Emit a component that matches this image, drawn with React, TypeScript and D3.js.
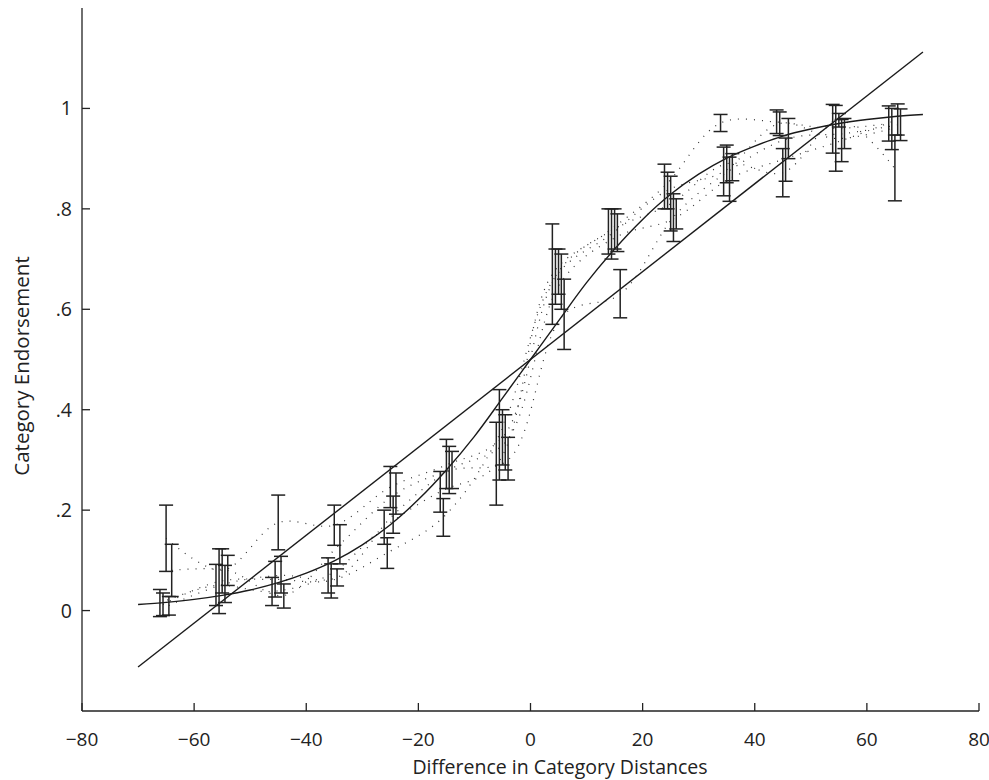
import React from "react";
import * as d3 from "d3";

const groupX = [-65, -55, -45, -35, -25, -15, -5, 5, 15, 25, 35, 45, 55, 65];
const seriesOffsets = [-1.1, -0.55, 0, 0.5, 1.0];

const seriesAMean = [0.015, 0.05, 0.038, 0.07, 0.166, 0.237, 0.29, 0.67, 0.755, 0.845, 0.971, 0.973, 0.96, 0.97];
const seriesALow = [-0.012, 0.01, 0.01, 0.035, 0.132, 0.196, 0.21, 0.57, 0.71, 0.8, 0.954, 0.95, 0.911, 0.935];
const seriesAHigh = [0.042, 0.092, 0.066, 0.105, 0.2, 0.277, 0.375, 0.77, 0.8, 0.889, 0.988, 0.997, 1.008, 1.005];

const seriesBMean = [0.012, 0.058, 0.062, 0.06, 0.115, 0.186, 0.35, 0.665, 0.75, 0.837, 0.874, 0.97, 0.94, 0.96];
const seriesBLow = [-0.01, -0.006, 0.027, 0.025, 0.084, 0.148, 0.26, 0.61, 0.7, 0.8, 0.826, 0.946, 0.875, 0.918];
const seriesBHigh = [0.035, 0.123, 0.098, 0.093, 0.145, 0.223, 0.44, 0.72, 0.8, 0.873, 0.923, 0.993, 1.006, 1.0];

const seriesCMean = [0.144, 0.08, 0.175, 0.17, 0.246, 0.29, 0.345, 0.675, 0.76, 0.81, 0.89, 0.872, 0.977, 0.88];
const seriesCLow = [0.078, 0.035, 0.121, 0.13, 0.205, 0.243, 0.29, 0.63, 0.72, 0.756, 0.852, 0.824, 0.963, 0.816];
const seriesCHigh = [0.21, 0.123, 0.23, 0.21, 0.287, 0.341, 0.4, 0.72, 0.8, 0.865, 0.927, 0.92, 0.99, 0.947];

const seriesDMean = [0.01, 0.053, 0.07, 0.066, 0.19, 0.28, 0.335, 0.655, 0.745, 0.78, 0.86, 0.9, 0.936, 0.978];
const seriesDLow = [-0.009, 0.016, 0.035, 0.049, 0.154, 0.233, 0.28, 0.6, 0.715, 0.735, 0.815, 0.855, 0.894, 0.947];
const seriesDHigh = [0.028, 0.09, 0.108, 0.083, 0.228, 0.327, 0.39, 0.71, 0.79, 0.83, 0.903, 0.941, 0.978, 1.009];

const seriesEMean = [0.08, 0.08, 0.03, 0.132, 0.233, 0.28, 0.3, 0.59, 0.63, 0.79, 0.88, 0.94, 0.95, 0.968];
const seriesELow = [0.028, 0.05, 0.005, 0.093, 0.192, 0.243, 0.26, 0.52, 0.583, 0.76, 0.856, 0.9, 0.92, 0.936];
const seriesEHigh = [0.132, 0.11, 0.053, 0.171, 0.274, 0.317, 0.345, 0.66, 0.679, 0.82, 0.91, 0.98, 0.98, 0.999];

const linearFitX = [-70, 70];
const linearFitY = [-0.1125, 1.1125];

const logisticX = [-70, -65, -60, -55, -50, -45, -40, -35, -30, -25, -20, -15, -10, -5, 0, 5, 10, 15, 20, 25, 30, 35, 40, 45, 50, 55, 60, 65, 70];
const logisticY = [0.012, 0.0164, 0.0223, 0.0303, 0.041, 0.0555, 0.0746, 0.099, 0.131, 0.171, 0.221, 0.28, 0.347, 0.423, 0.5, 0.577, 0.653, 0.72, 0.779, 0.829, 0.869, 0.901, 0.925, 0.945, 0.959, 0.97, 0.978, 0.984, 0.988];

const xTicks = [-80, -60, -40, -20, 0, 20, 40, 60, 80];
const yTicks = [0, 0.2, 0.4, 0.6, 0.8, 1];
const yTickLabels = ["0", ".2", ".4", ".6", ".8", "1"];

const xTitle = "Difference in Category Distances";
const yTitle = "Category Endorsement";

const W = 989;
const H = 780;
const FONT = "'Open Sans', 'Noto Sans', sans-serif";

export default function App() {
  const x = d3.scaleLinear().domain([-80, 80]).range([82, 979]);
  const y = d3.scaleLinear().domain([-0.2, 1.2]).range([711, 8]);

  const series = [
    { mean: seriesAMean, low: seriesALow, high: seriesAHigh },
    { mean: seriesBMean, low: seriesBLow, high: seriesBHigh },
    { mean: seriesCMean, low: seriesCLow, high: seriesCHigh },
    { mean: seriesDMean, low: seriesDLow, high: seriesDHigh },
    { mean: seriesEMean, low: seriesELow, high: seriesEHigh },
  ];

  const dotted = d3
    .line<[number, number]>()
    .x((d) => x(d[0]))
    .y((d) => y(d[1]))
    .curve(d3.curveCatmullRom.alpha(0.5));

  const smooth = d3
    .line<[number, number]>()
    .x((d) => x(d[0]))
    .y((d) => y(d[1]))
    .curve(d3.curveMonotoneX);

  const straight = d3
    .line<[number, number]>()
    .x((d) => x(d[0]))
    .y((d) => y(d[1]));

  const cap = 7;
  const [x0, x1] = x.range();
  const [yb, yt] = y.range();

  return (
    <svg
      width={W}
      height={H}
      style={{ position: "absolute", left: 0, top: 0, background: "#fff" }}
      fontFamily={FONT}
    >
      <rect x={0} y={0} width={W} height={H} fill="#fff" />
      {/* axes */}
      <line x1={x0} x2={x0} y1={yt} y2={yb} stroke="#222" strokeWidth={1.3} />
      <line x1={x0} x2={x1} y1={yb} y2={yb} stroke="#222" strokeWidth={1.3} />
      {xTicks.map((t) => (
        <g key={"xt" + t}>
          <line x1={x(t)} x2={x(t)} y1={yb} y2={yb - 8} stroke="#222" strokeWidth={1.3} />
          <text x={x(t)} y={746} textAnchor="middle" fontSize={19} fill="#222">
            {t < 0 ? "\u2212" + Math.abs(t) : String(t)}
          </text>
        </g>
      ))}
      {yTicks.map((t, i) => (
        <g key={"yt" + t}>
          <line x1={x0} x2={x0 + 8} y1={y(t)} y2={y(t)} stroke="#222" strokeWidth={1.3} />
          <text x={72} y={y(t) + 7} textAnchor="end" fontSize={19.5} fill="#222">
            {yTickLabels[i]}
          </text>
        </g>
      ))}
      <text x={560} y={774} textAnchor="middle" fontSize={19.5} fill="#222">
        {xTitle}
      </text>
      <text
        transform={`translate(29, 366) rotate(-90)`}
        textAnchor="middle"
        fontSize={20.5}
        fill="#222"
      >
        {yTitle}
      </text>

      {/* dotted series curves */}
      {series.map((s, si) => (
        <path
          key={"dot" + si}
          d={dotted(groupX.map((g, i) => [g + seriesOffsets[si], s.mean[i]] as [number, number])) || ""}
          fill="none"
          stroke="#333"
          strokeWidth={1.2}
          strokeDasharray="1 7"
        />
      ))}

      {/* fits */}
      <path
        d={straight(linearFitX.map((v, i) => [v, linearFitY[i]] as [number, number])) || ""}
        fill="none"
        stroke="#1a1a1a"
        strokeWidth={1.4}
      />
      <path
        d={smooth(logisticX.map((v, i) => [v, logisticY[i]] as [number, number])) || ""}
        fill="none"
        stroke="#1a1a1a"
        strokeWidth={1.4}
      />

      {/* error bars */}
      {series.map((s, si) =>
        groupX.map((g, i) => {
          const cx = x(g + seriesOffsets[si]);
          const ylo = y(s.low[i]);
          const yhi = y(s.high[i]);
          return (
            <g key={"eb" + si + "-" + i} stroke="#222" strokeWidth={1.5}>
              <line x1={cx} x2={cx} y1={ylo} y2={yhi} />
              <line x1={cx - cap} x2={cx + cap} y1={ylo} y2={ylo} />
              <line x1={cx - cap} x2={cx + cap} y1={yhi} y2={yhi} />
            </g>
          );
        })
      )}
    </svg>
  );
}
